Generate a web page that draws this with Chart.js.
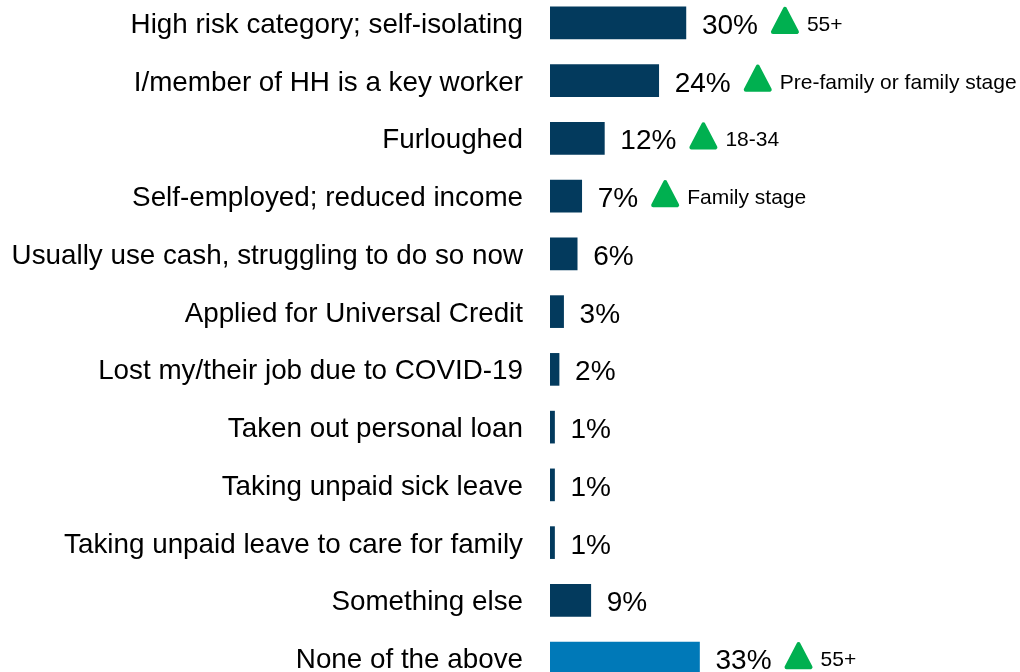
<!DOCTYPE html>
<html>
<head>
<meta charset="utf-8">
<script src="https://cdn.jsdelivr.net/npm/chart.js@4/dist/chart.umd.min.js"></script>
<style>
    html, body { margin: 0; padding: 0; background: #fff; overflow: hidden; }
    #wrap { position: absolute; left: 0; top: -6px; width: 1020px; height: 693px; }
</style>
</head>
<body>
<div id="wrap"><canvas id="chart" width="1020" height="693"></canvas></div>
<script>
const categories = [
    'High risk category; self-isolating',
    'I/member of HH is a key worker',
    'Furloughed',
    'Self-employed; reduced income',
    'Usually use cash, struggling to do so now',
    'Applied for Universal Credit',
    'Lost my/their job due to COVID-19',
    'Taken out personal loan',
    'Taking unpaid sick leave',
    'Taking unpaid leave to care for family',
    'Something else',
    'None of the above'
];
const values = [30, 24, 12, 7, 6, 3, 2, 1, 1, 1, 9, 33];
// groups significantly higher than average, shown next to a green arrow
const highGroups = ['55+', 'Pre-family or family stage', '18-34', 'Family stage', '', '', '', '', '', '', '', '55+'];

const NAVY = '#033A5D';
const BLUE = '#0079B8';
const GREEN = '#00B050';
const FONT = 'Liberation Sans, Arial, sans-serif';

// category names on the left, drawn at the y scale positions
const categoryLabels = {
    id: 'categoryLabels',
    afterDraw(chart) {
        const ctx = chart.ctx;
        const yScale = chart.scales.y;
        ctx.save();
        ctx.font = '27.8px ' + FONT;
        ctx.fillStyle = '#000';
        ctx.textAlign = 'right';
        ctx.textBaseline = 'alphabetic';
        categories.forEach((name, i) => {
            ctx.fillText(name, chart.chartArea.left - 27, yScale.getPixelForValue(i) + 10);
        });
        ctx.restore();
    }
};

// percentage label, green triangle and group text after each bar
const barLabels = {
    id: 'barLabels',
    afterDatasetsDraw(chart) {
        const ctx = chart.ctx;
        const meta = chart.getDatasetMeta(0);
        ctx.save();
        meta.data.forEach((bar, i) => {
            const text = values[i] + '%';
            let x = bar.x + 16;
            const base = bar.y + 11;
            ctx.font = '28px ' + FONT;
            ctx.fillStyle = '#000';
            ctx.textAlign = 'left';
            ctx.textBaseline = 'alphabetic';
            ctx.fillText(text, x, base);
            if (!highGroups[i]) return;
            x += ctx.measureText(text).width + 13;
            // rounded up-arrow
            ctx.beginPath();
            ctx.moveTo(x + 2, base - 2);
            ctx.lineTo(x + 14, base - 25);
            ctx.lineTo(x + 26, base - 2);
            ctx.closePath();
            ctx.fillStyle = GREEN;
            ctx.strokeStyle = GREEN;
            ctx.lineWidth = 4;
            ctx.lineJoin = 'round';
            ctx.fill();
            ctx.stroke();
            ctx.font = '21px ' + FONT;
            ctx.fillStyle = '#000';
            ctx.fillText(highGroups[i], x + 36, bar.y + 8);
        });
        ctx.restore();
    }
};

new Chart(document.getElementById('chart'), {
    type: 'bar',
    data: {
        labels: categories,
        datasets: [{
            data: values,
            backgroundColor: ctx => ctx.dataIndex === categories.length - 1 ? BLUE : NAVY,
            borderWidth: 0,
            barThickness: 32
        }]
    },
    options: {
        indexAxis: 'y',
        responsive: false,
        devicePixelRatio: 1,
        animation: false,
        layout: { padding: { left: 0, right: 17, top: 0, bottom: 0 } },
        scales: {
            x: {
                display: false,
                min: 0,
                max: 100
            },
            y: {
                grid: { display: false, drawTicks: false },
                border: { display: false },
                ticks: { display: false },
                afterFit(scale) {
                    scale.width = 550;
                    scale.paddingTop = 0;
                    scale.paddingBottom = 0;
                }
            }
        },
        plugins: {
            legend: { display: false },
            tooltip: { enabled: false }
        }
    },
    plugins: [barLabels, categoryLabels]
});
</script>
</body>
</html>
